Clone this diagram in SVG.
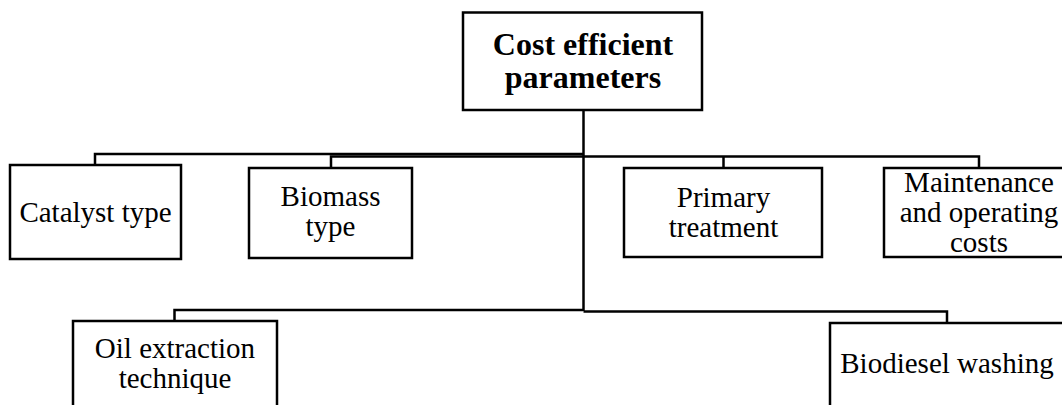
<svg xmlns="http://www.w3.org/2000/svg" width="1062" height="405" viewBox="0 0 1062 405">
<style>
.box{fill:#fff;stroke:#000;stroke-width:2.5}
text{font-family:'Liberation Serif','Tinos','Times New Roman','DejaVu Serif',serif;font-size:29px;fill:#000;text-anchor:middle}
.b{font-weight:bold;font-size:32px}
.c{fill:none;stroke:#000;stroke-width:2.5}
</style>
<rect width="1062" height="405" fill="#fff"/>
<g id="connectors">
<path class="c" d="M583.5 110 V311"/>
<path class="c" d="M583.5 154 H95 V165"/>
<path class="c" d="M583.5 156.5 H331 V168"/>
<path class="c" d="M583.5 156.5 H979 V168"/>
<path class="c" d="M723.5 156.5 V168"/>
<path class="c" d="M583.5 310 H174.5 V321"/>
<path class="c" d="M583.5 311.5 H947 V323"/>
</g>
<g id="root">
<rect class="box" x="463" y="12.5" width="239" height="97.5"/>
<text class="b" x="583" y="55" font-family="Liberation Serif, serif">Cost efficient</text>
<text class="b" x="583" y="87.5" font-family="Liberation Serif, serif">parameters</text>
</g>
<g id="catalyst">
<rect class="box" x="10" y="165" width="171" height="94"/>
<text x="95.5" y="221.5" font-family="Liberation Serif, serif">Catalyst type</text>
</g>
<g id="biomass">
<rect class="box" x="249" y="168" width="163" height="90"/>
<text x="330.5" y="206" font-family="Liberation Serif, serif">Biomass</text>
<text x="330.5" y="235.5" font-family="Liberation Serif, serif">type</text>
</g>
<g id="primary">
<rect class="box" x="624" y="168" width="198" height="89"/>
<text x="723.5" y="206.5" font-family="Liberation Serif, serif">Primary</text>
<text x="723.5" y="236.5" font-family="Liberation Serif, serif">treatment</text>
</g>
<g id="maintenance">
<rect class="box" x="884" y="168" width="190" height="89"/>
<text x="979" y="191.5" font-family="Liberation Serif, serif">Maintenance</text>
<text x="979" y="221.5" font-family="Liberation Serif, serif">and operating</text>
<text x="979" y="251.5" font-family="Liberation Serif, serif">costs</text>
</g>
<g id="oil">
<rect class="box" x="73" y="321" width="204" height="100"/>
<text x="175" y="358" font-family="Liberation Serif, serif">Oil extraction</text>
<text x="175" y="388" font-family="Liberation Serif, serif">technique</text>
</g>
<g id="biodiesel">
<rect class="box" x="830" y="323" width="240" height="100"/>
<text x="947" y="373" font-family="Liberation Serif, serif">Biodiesel washing</text>
</g>
</svg>
